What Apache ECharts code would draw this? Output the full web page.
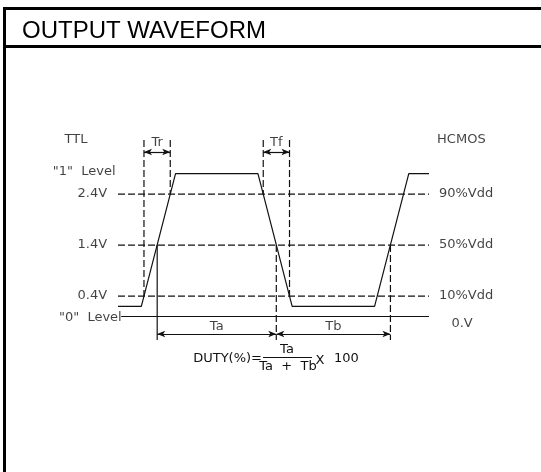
<!DOCTYPE html>
<html>
<head>
<meta charset="utf-8">
<script src="https://cdn.jsdelivr.net/npm/echarts@6/dist/echarts.min.js"></script>
<style>html,body{margin:0;padding:0;background:#fff;}#c{width:541px;height:472px;}</style>
</head>
<body>
<div id="c"></div>
<script>
// ---- data ----
// waveform corners: time (arbitrary units) and level (V)
const waveT = [0, 7.5, 18.5, 45, 56, 82.5, 93.5, 100];
const waveV = [0.2, 0.2, 2.8, 2.8, 0.2, 0.2, 2.8, 2.8];
// threshold levels
const levelV = [2.4, 1.4, 0.4];
const ttlLabels = ['2.4V', '1.4V', '0.4V'];
const hcmosLabels = ['90%Vdd', '50%Vdd', '10%Vdd'];
const zeroLevel = 0;
// times of threshold crossings
const trTimes = [8.35, 16.8];     // rise: 0.4V and 2.4V
const tfTimes = [46.7, 55.15];    // fall: 2.4V and 0.4V
const midTimes = [12.6, 50.9, 87.6]; // 1.4V crossings
const periodLabels = ['Ta', 'Tb'];

const chart = echarts.init(document.getElementById('c'), null, {renderer: 'canvas'});
const FONT = 'DejaVu Sans';
const INK = '#111';

const solid = {color: INK, width: 1.2, type: 'solid'};
const dashed = {color: INK, width: 1.2, type: [7, 3]};

const series = [];
function seg(points, style) {
  series.push({
    type: 'line', data: points, symbol: 'none', silent: true, animation: false,
    lineStyle: style, clip: false, z: 2
  });
}
// waveform
seg(waveT.map((t, i) => [t, waveV[i]]), solid);
// threshold dashed lines
levelV.forEach(v => seg([[waveT[0], v], [waveT[waveT.length - 1], v]], dashed));
// "0" level solid line
seg([[waveT[0] + 1, zeroLevel], [waveT[waveT.length - 1], zeroLevel]], solid);

const topV = 3.46, arrowTopV = 3.225, botV = -0.46, arrowBotV = -0.343;
// Tr / Tf verticals
seg([[trTimes[0], topV], [trTimes[0], levelV[2]]], dashed);
seg([[trTimes[1], topV], [trTimes[1], levelV[0]]], dashed);
seg([[tfTimes[0], topV], [tfTimes[0], levelV[0]]], dashed);
seg([[tfTimes[1], topV], [tfTimes[1], levelV[2]]], dashed);
// Ta / Tb verticals
seg([[midTimes[0], levelV[1]], [midTimes[0], botV]], solid);
seg([[midTimes[1], levelV[1]], [midTimes[1], botV]], dashed);
seg([[midTimes[2], levelV[1]], [midTimes[2], botV]], dashed);

// arrows via markLine
function arrow(t1, t2, v) {
  return [{coord: [t1, v]}, {coord: [t2, v]}];
}
series.push({
  type: 'line', data: [], symbol: 'none', animation: false,
  markLine: {
    silent: true, animation: false,
    symbol: ['arrow', 'arrow'], symbolSize: [5, 8],
    label: {show: false},
    lineStyle: {color: INK, width: 1.2, type: 'solid'},
    data: [
      arrow(trTimes[0], trTimes[1], arrowTopV),
      arrow(tfTimes[0], tfTimes[1], arrowTopV),
      arrow(midTimes[0], midTimes[1], arrowBotV),
      arrow(midTimes[1], midTimes[2], arrowBotV)
    ]
  }
});

// text labels placed in data coordinates
function txt(t, v, text, pos) {
  return {value: [t, v], name: text, label: {position: pos}};
}
const texts = [];
ttlLabels.forEach((s, i) => texts.push(txt(-3.5, levelV[i], s, 'left')));
hcmosLabels.forEach((s, i) => texts.push(txt(103.2, levelV[i], s, 'right')));
texts.push(txt(-13.5, topV, 'TTL', 'inside'));
texts.push(txt(102.6, topV, 'HCMOS', 'right'));
texts.push(txt(-0.8, 2.85, '"1"  Level', 'left'));
texts.push(txt(1.2, -0.03, '"0"  Level', 'left'));
texts.push(txt(107.2, -0.13, '0.V', 'right'));
texts.push(txt((trTimes[0] + trTimes[1]) / 2, 3.4, 'Tr', 'inside'));
texts.push(txt((tfTimes[0] + tfTimes[1]) / 2, 3.4, 'Tf', 'inside'));
texts.push(txt((midTimes[0] + midTimes[1]) / 2, -0.19, periodLabels[0], 'inside'));
texts.push(txt((midTimes[1] + midTimes[2]) / 2, -0.19, periodLabels[1], 'inside'));

series.push({
  type: 'scatter', symbolSize: 0, clip: false, silent: true, animation: false,
  data: texts,
  label: {show: true, formatter: p => p.name, color: INK, fontFamily: FONT, fontSize: 13, distance: 0}
});

const F13 = '13px "DejaVu Sans"';
chart.setOption({
  animation: false,
  backgroundColor: '#fff',
  grid: {left: 118, right: 112, top: 138, bottom: 130},
  xAxis: {type: 'value', min: 0, max: 100, show: false},
  yAxis: {type: 'value', min: -0.5, max: 3.5, show: false},
  series: series,
  graphic: [
    {type: 'line', shape: {x1: 3, y1: 8.5, x2: 541, y2: 8.5}, style: {stroke: '#000', lineWidth: 3}},
    {type: 'line', shape: {x1: 3, y1: 46.5, x2: 541, y2: 46.5}, style: {stroke: '#000', lineWidth: 3}},
    {type: 'line', shape: {x1: 4.5, y1: 7, x2: 4.5, y2: 472}, style: {stroke: '#000', lineWidth: 3}},
    {type: 'text', x: 22, y: 31, style: {text: 'OUTPUT WAVEFORM', fill: '#000', font: '24px "Liberation Sans"', textVerticalAlign: 'middle'}},
    {type: 'text', x: 262, y: 359, style: {text: 'DUTY(%)=', fill: INK, font: F13, textAlign: 'right', textVerticalAlign: 'middle'}},
    {type: 'text', x: 287, y: 350, style: {text: 'Ta', fill: INK, font: F13, textAlign: 'center', textVerticalAlign: 'middle'}},
    {type: 'line', shape: {x1: 263, y1: 357.5, x2: 312, y2: 357.5}, style: {stroke: INK, lineWidth: 1.2}},
    {type: 'text', x: 288, y: 367, style: {text: 'Ta  +  Tb', fill: INK, font: F13, textAlign: 'center', textVerticalAlign: 'middle'}},
    {type: 'text', x: 320, y: 361, style: {text: 'X', fill: INK, font: F13, textAlign: 'center', textVerticalAlign: 'middle'}},
    {type: 'text', x: 334, y: 359, style: {text: '100', fill: INK, font: F13, textVerticalAlign: 'middle'}}
  ]
});
</script>
</body>
</html>
